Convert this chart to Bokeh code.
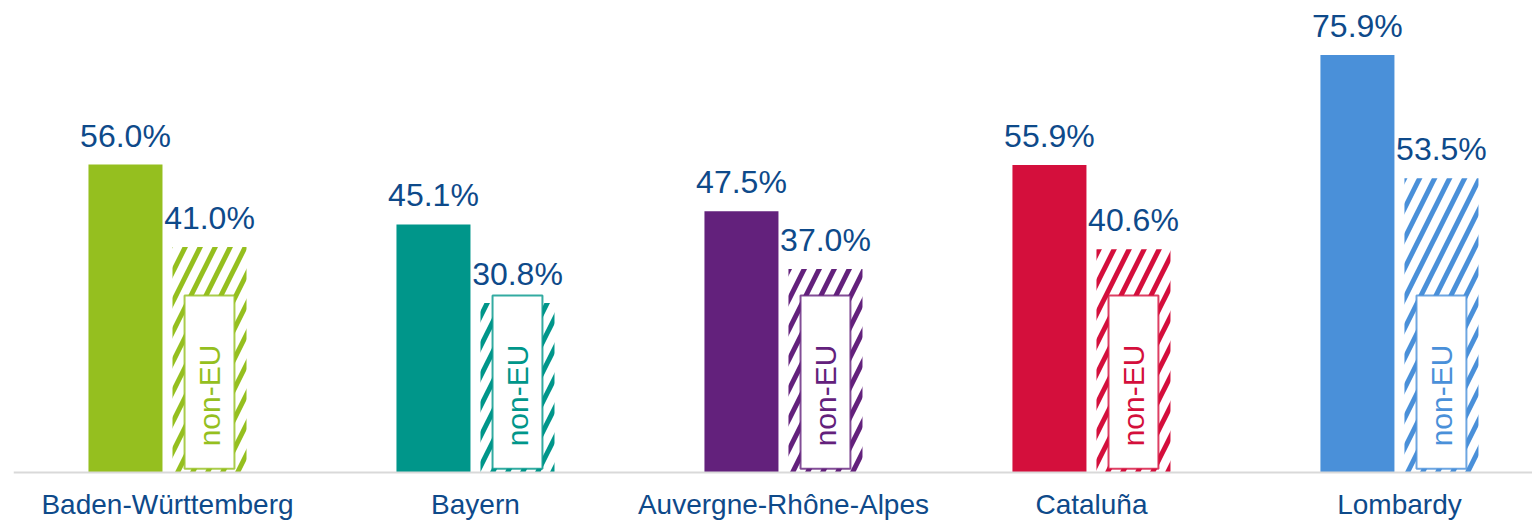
import math
from bokeh.plotting import figure
from bokeh.models import Range1d, FixedTicker, Span
from bokeh.core.properties import value
from bokeh.embed import file_html
from bokeh.resources import INLINE

regions = ["Baden-Württemberg", "Bayern", "Auvergne-Rhône-Alpes", "Cataluña", "Lombardy"]
total_share = [56.0, 45.1, 47.5, 55.9, 75.9]
non_eu_share = [41.0, 30.8, 37.0, 40.6, 53.5]
colors = ["#95BF1F", "#00968A", "#63217C", "#D40F3C", "#4A90D9"]
inset_label = "non-EU"

FONT = "Liberation Sans"
TEXT_BLUE = "#0E4A8A"

x = list(range(len(regions)))
off = 0.1364
bw = 0.2403
x_eu = [i - off for i in x]
x_ne = [i + off for i in x]

p = figure(width=1532, height=522,
           x_range=Range1d(-0.5, 4.432), y_range=Range1d(-2.18, 85.82),
           output_backend="svg", toolbar_location=None,
           min_border_left=13, min_border_right=0, min_border_top=0, min_border_bottom=0)

p.vbar(x=x_eu, top=total_share, width=bw, fill_color=colors, line_color=None)
p.vbar(x=x_ne, top=non_eu_share, width=bw, fill_color=None, line_color=None,
       hatch_pattern="/", hatch_color=colors, hatch_scale=30, hatch_weight=5)

# inset boxes with "non-EU" label
box_w = 0.162
p.quad(left=[v - box_w / 2 for v in x_ne], right=[v + box_w / 2 for v in x_ne],
       bottom=[0.7] * 5, top=[32.2] * 5, fill_color="white", line_color=colors,
       line_width=2, line_alpha=0.8)
p.text(x=x_ne, y=[14.0] * 5, text=[inset_label] * 5, angle=math.pi / 2,
       text_align="center", text_baseline="middle", text_color=colors,
       text_font=value(FONT), text_font_size="30px")

# value labels
p.text(x=x_eu, y=total_share, text=[f"{v:.1f}%" for v in total_share],
       text_align="center", text_baseline="alphabetic", y_offset=-29,
       text_color=TEXT_BLUE, text_font=value(FONT), text_font_size="32px")
p.text(x=x_ne, y=non_eu_share, text=[f"{v:.1f}%" for v in non_eu_share],
       text_align="center", text_baseline="alphabetic", y_offset=-29,
       text_color=TEXT_BLUE, text_font=value(FONT), text_font_size="32px")

p.add_layout(Span(location=0, dimension="width", line_color="#D9D9D9", line_width=2))

p.yaxis.visible = False
p.xgrid.visible = False
p.ygrid.visible = False
p.outline_line_color = None

ax = p.xaxis[0]
ax.ticker = FixedTicker(ticks=x)
ax.major_label_overrides = {i: r for i, r in zip(x, regions)}
ax.major_tick_in = 0
ax.major_tick_out = 0
ax.minor_tick_in = 0
ax.minor_tick_out = 0
ax.axis_line_color = None
ax.major_label_standoff = 4
ax.major_label_text_font = FONT
ax.major_label_text_font_size = "28px"
ax.major_label_text_color = TEXT_BLUE

open("out.html", "w").write(file_html(p, INLINE))
